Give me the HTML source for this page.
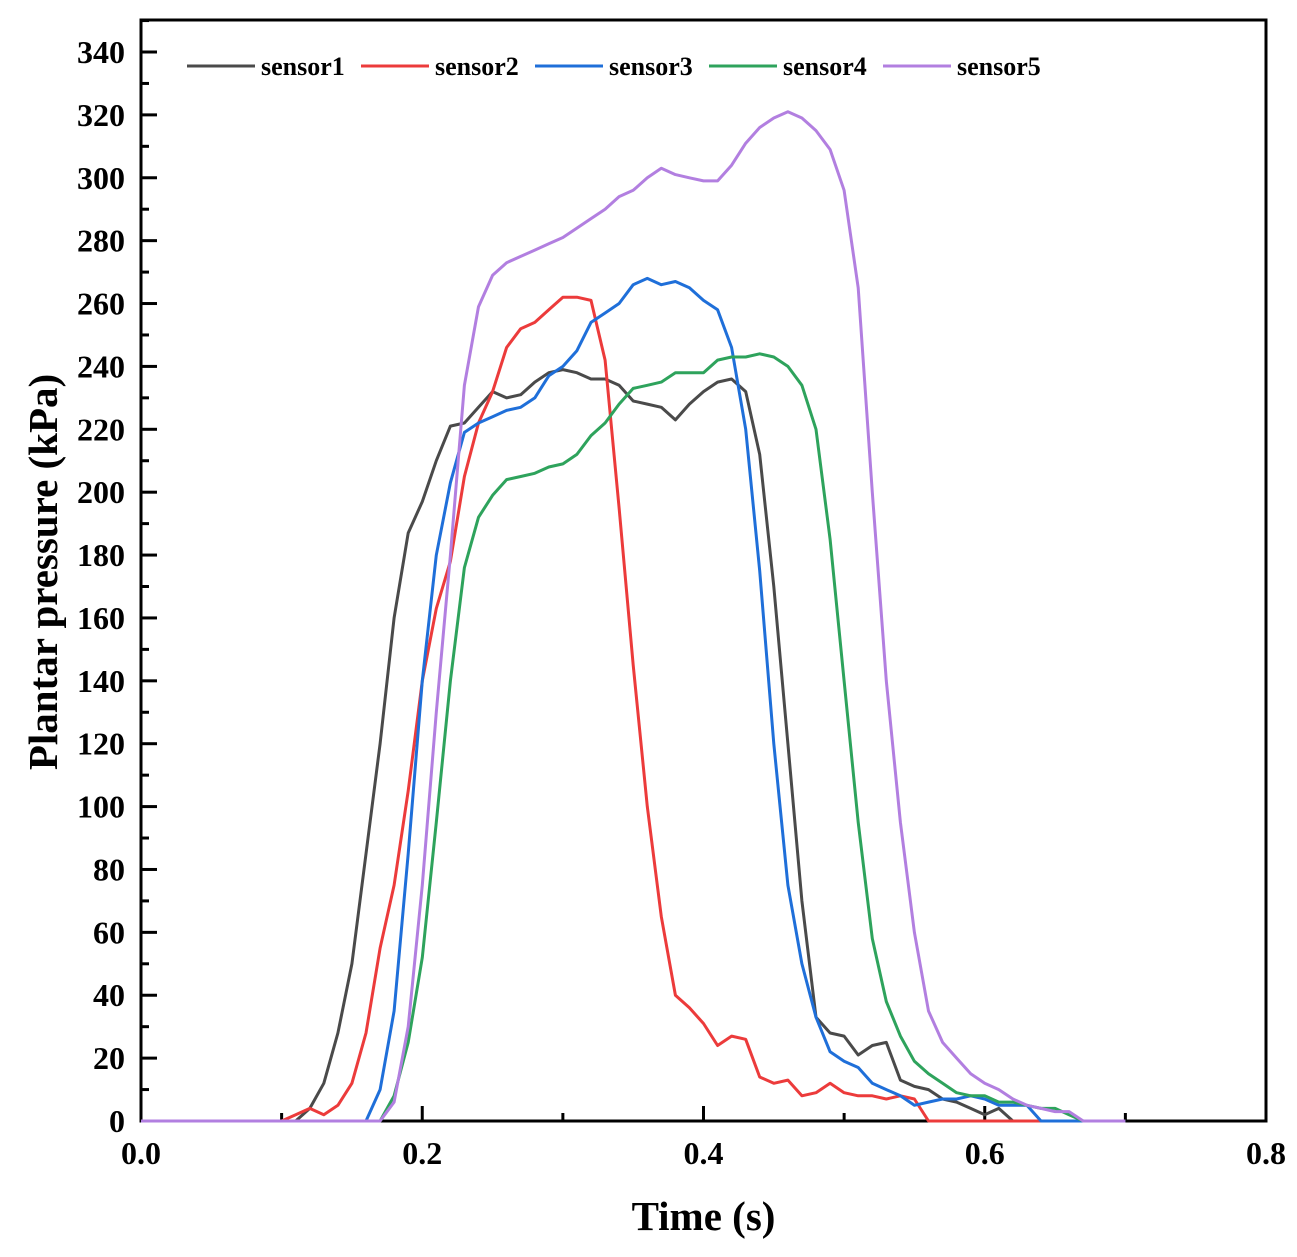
<!DOCTYPE html>
<html><head><meta charset="utf-8">
<style>
html,body{margin:0;padding:0;background:#fff;}
svg{display:block;font-family:"Liberation Serif",serif;font-weight:bold;}
</style></head>
<body>
<svg id="chart" width="1297" height="1257" xmlns="http://www.w3.org/2000/svg"></svg>
<script>
const times = Array.from({length:71},(_, i)=>i/100);
const sensor1 = [0,0,0,0,0,0,0,0,0,0,0,0,4,12,28,50,85,120,160,187,197,210,221,222,227,232,230,231,235,238,239,238,236,236,234,229,228,227,223,228,232,235,236,232,212,170,120,70,33,28,27,21,24,25,13,11,10,7,6,4,2,4,0,0,0,0,0,0,0,0,0];
const sensor2 = [0,0,0,0,0,0,0,0,0,0,0,2,4,2,5,12,28,55,75,105,140,163,178,205,222,232,246,252,254,258,262,262,261,242,195,145,100,65,40,36,31,24,27,26,14,12,13,8,9,12,9,8,8,7,8,7,0,0,0,0,0,0,0,0,0,0,0,0,0,0,0];
const sensor3 = [0,0,0,0,0,0,0,0,0,0,0,0,0,0,0,0,0,10,35,85,140,180,203,219,222,224,226,227,230,237,240,245,254,257,260,266,268,266,267,265,261,258,246,220,175,120,75,50,33,22,19,17,12,10,8,5,6,7,7,8,7,5,5,5,0,0,0,0,0,0,0];
const sensor4 = [0,0,0,0,0,0,0,0,0,0,0,0,0,0,0,0,0,0,8,25,52,95,140,176,192,199,204,205,206,208,209,212,218,222,228,233,234,235,238,238,238,242,243,243,244,243,240,234,220,185,140,95,58,38,27,19,15,12,9,8,8,6,6,5,4,4,2,0,0,0,0];
const sensor5 = [0,0,0,0,0,0,0,0,0,0,0,0,0,0,0,0,0,0,6,30,75,130,180,234,259,269,273,275,277,279,281,284,287,290,294,296,300,303,301,300,299,299,304,311,316,319,321,319,315,309,296,265,200,140,95,60,35,25,20,15,12,10,7,5,4,3,3,0,0,0,0];
const seriesNames = ["sensor1","sensor2","sensor3","sensor4","sensor5"];
const xTicks = [0.0,0.2,0.4,0.6,0.8];
const xTickLabels = ["0.0","0.2","0.4","0.6","0.8"];
const yTicks = [0,20,40,60,80,100,120,140,160,180,200,220,240,260,280,300,320,340];

const NS="http://www.w3.org/2000/svg";
const svg=document.getElementById('chart');
const L=141,R=1266,T=20,B=1121;
const xS=v=>L+(v-0)/0.8*(R-L);
const yS=v=>B-v/340*(B-52);
function mk(tag,attrs,parent){const e=document.createElementNS(NS,tag);for(const k in attrs)e.setAttribute(k,attrs[k]);(parent||svg).appendChild(e);return e;}

const series=[sensor1,sensor2,sensor3,sensor4,sensor5];
const colors=["#4a4a4a","#ec3b3b","#1f6fd9","#2ea35c","#b27fe0"];

const frame=mk('rect',{x:L,y:T,width:R-L,height:B-T,fill:'none',stroke:'#000','stroke-width':3});



xTicks.forEach((v,i)=>{
  const t=mk('line',{x1:xS(v),x2:xS(v),y1:B,y2:B-15,stroke:'#000','stroke-width':3});
  
  
  const lb=mk('text',{x:xS(v),y:1164,'text-anchor':'middle','font-size':32});
  lb.textContent=xTickLabels[i];
  
  
  if(i<xTicks.length-1){
    const m=mk('line',{x1:xS(v+0.1),x2:xS(v+0.1),y1:B,y2:B-8,stroke:'#000','stroke-width':3});
    
    
  }
});
yTicks.forEach((v,i)=>{
  const t=mk('line',{x1:L,x2:L+16,y1:yS(v),y2:yS(v),stroke:'#000','stroke-width':3});
  
  
  const lb=mk('text',{x:L-16,y:yS(v)+11,'text-anchor':'end','font-size':32});
  lb.textContent=String(v);
  
  
  const m=mk('line',{x1:L,x2:L+8,y1:yS(v+10),y2:yS(v+10),stroke:'#000','stroke-width':3});
  
  
});

const plot=mk('g',{});


series.forEach((s,k)=>{
  const d=s.map((v,i)=>(i?'L':'M')+xS(times[i]).toFixed(1)+','+yS(v).toFixed(1)).join('');
  const p=mk('path',{d:d,fill:'none',stroke:colors[k],'stroke-width':3,'stroke-linejoin':'round'},plot);
  
  
});

const xt=mk('text',{x:(L+R)/2,y:1230,'text-anchor':'middle','font-size':41});
xt.textContent='Time (s)';


const yt=mk('text',{x:0,y:0,'text-anchor':'middle','font-size':41,transform:'translate(57,572) rotate(-90)'});
yt.textContent='Plantar pressure (kPa)';



const lg=mk('g',{});


seriesNames.forEach((n,k)=>{
  const x0=187+k*174;
  const g=mk('g',{},lg);
  
  
  mk('line',{x1:x0,x2:x0+68,y1:66,y2:66,stroke:colors[k],'stroke-width':3},g);
  const tx=mk('text',{x:x0+74,y:75,'font-size':26},g);
  tx.textContent=n;
});
</script>
</body></html>
